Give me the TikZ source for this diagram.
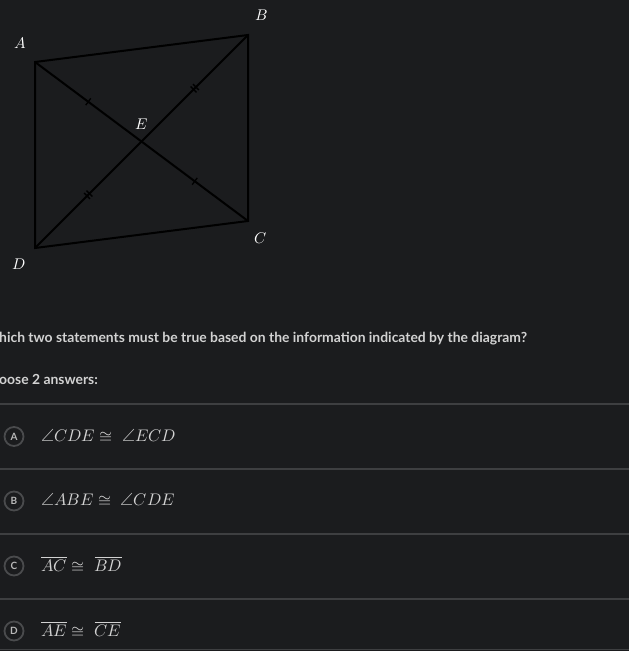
\documentclass[tikz,border=0pt]{standalone}
\usepackage{fontspec}
\usepackage{unicode-math}
\setmathfont{Latin Modern Math}
\newfontfamily\lato{Lato}
\definecolor{bgc}{HTML}{1B1C1E}
\definecolor{sepc}{HTML}{3E3F41}
\definecolor{txtc}{HTML}{D2D2D2}
\definecolor{circc}{HTML}{4A4B4D}
\definecolor{letc}{HTML}{B8B8B8}
\tikzset{
  vlabel/.style={text=white, inner sep=0pt, font=\fontsize{15.5}{15.5}\selectfont},
  edge/.style={draw=black, line width=2pt},
  tickmark/.style={inner sep=0pt, minimum height=8pt, minimum width=0pt, sloped},
  dtickmark/.style={inner sep=0pt, minimum height=8pt, minimum width=3pt, sloped},
  question/.style={text=txtc, anchor=west, inner sep=0pt, font=\lato\bfseries\fontsize{13.9}{13.9}\selectfont},
  sepline/.style={draw=sepc, line width=1.2pt},
  choicecirc/.style={circle, draw=circc, line width=1.8pt, minimum size=19pt, inner sep=0pt, text=letc, font=\lato\bfseries\fontsize{10}{10}\selectfont},
  answer/.style={text=txtc, anchor=west, inner sep=0pt, font=\fontsize{16.8}{16.8}\selectfont}
}
\begin{document}
\begin{tikzpicture}[x=1pt,y=-1pt]
\fill[bgc] (0,0) rectangle (629,651);
\useasboundingbox (0,0) rectangle (629,651);
% vertices
\coordinate (A) at (35,62);
\coordinate (B) at (248,35);
\coordinate (C) at (248,221);
\coordinate (D) at (35,248);
\draw[edge, line join=miter] (A) -- (B) -- (C) -- (D) -- cycle;
\draw[edge] (A) -- (C);
\draw[edge] (D) -- (B);
% tick marks
\path (A) -- (C) node[tickmark, pos=0.25] (t1) {} node[tickmark, pos=0.75] (t2) {};
\path (D) -- (B) node[dtickmark, pos=0.25] (t3) {} node[dtickmark, pos=0.75] (t4) {};
\draw[black, line width=1.3pt] (t1.north) -- (t1.south) (t2.north) -- (t2.south);
\draw[black, line width=1.3pt] (t3.north west) -- (t3.south west) (t3.north east) -- (t3.south east)
  (t4.north west) -- (t4.south west) (t4.north east) -- (t4.south east);
% labels
\node[vlabel] (lA) at (20,43) {$A$};
\node[vlabel] (lB) at (262,15) {$B$};
\node[vlabel] (lC) at (261,238) {$C$};
\node[vlabel] (lD) at (19,264) {$D$};
\node[vlabel] (lE) at (142,124) {$E$};
% question
\node[question] (q1) at (-1,338.5) {hich two statements must be true based on the information indicated by the diagram?};
\node[question] (q2) at (-1,379.5) {oose 2 answers:};
% separators
\foreach \y/\n in {404/s1,469/s2,534/s3,599/s4,649.5/s5} {
  \coordinate (\n l) at (0,\y); \coordinate (\n r) at (629,\y);
  \draw[sepline] (\n l) -- (\n r);
}
% choices
\node[choicecirc] (cA) at (14,436.5) {A};
\node[choicecirc] (cB) at (14,501) {B};
\node[choicecirc] (cC) at (14,566) {C};
\node[choicecirc] (cD) at (14,631) {D};
\node[answer] (aA) at (41,436) {$\angle CDE \cong\ \angle ECD$};
\node[answer] (aB) at (41,500) {$\angle ABE \cong\ \angle CDE$};
\node[answer] (aC) at (41,564) {$\overline{AC} \cong\ \overline{BD}$};
\node[answer] (aD) at (41,629) {$\overline{AE} \cong\ \overline{CE}$};
\end{tikzpicture}
\end{document}
